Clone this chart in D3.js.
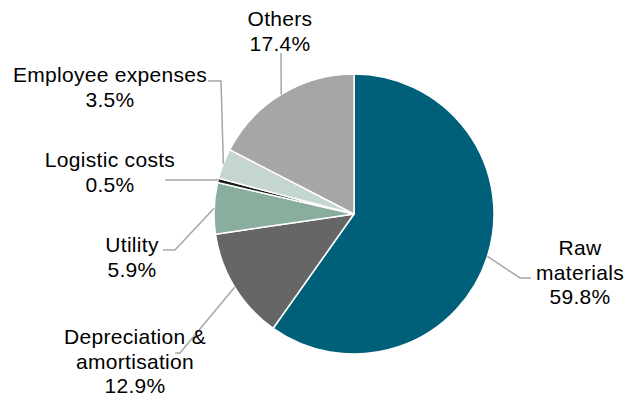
<!DOCTYPE html>
<html><head><meta charset="utf-8">
<script src="https://cdn.jsdelivr.net/npm/d3@7/dist/d3.min.js"></script>
<style>html,body{margin:0;padding:0;background:#fff;}svg{display:block;}</style>
</head><body>
<svg id="chart" width="632" height="401"></svg>
<script>
// Data
const categories = ["Raw materials", "Depreciation & amortisation", "Utility", "Logistic costs", "Employee expenses", "Others"];
const values = [59.8, 12.9, 5.9, 0.5, 3.5, 17.4];
const valueLabels = ["59.8%", "12.9%", "5.9%", "0.5%", "3.5%", "17.4%"];
const labelLines = [["Raw", "materials"], ["Depreciation &", "amortisation"], ["Utility"], ["Logistic costs"], ["Employee expenses"], ["Others"]];
const colors = ["#00607A", "#666666", "#8AAE9E", "#1A1A1A", "#C5D6D0", "#A6A6A6"];

// Layout (positions for labels and leader elbows)
const cx = 354, cy = 214, R = 140;
const labelPos = [
  {x: 580, y: 255}, {x: 135, y: 344}, {x: 132, y: 252},
  {x: 110, y: 167}, {x: 110, y: 82}, {x: 280, y: 26}
];
const elbows = [
  [[520, 278], [531, 278]],
  [[180, 353], [175, 353]],
  [[175, 250], [163, 250]],
  [[218, 180], [165, 180]],
  [[221, 81], [208, 81]],
  [[281, 53]]
];

const svg = d3.select("#chart");
const g = svg.append("g").attr("transform", `translate(${cx},${cy})`);
const pie = d3.pie().sort(null).value(d => d)(values);
const arc = d3.arc().innerRadius(0).outerRadius(R);

g.selectAll("path.slice").data(pie).join("path")
  .attr("class", "slice")
  .attr("d", arc)
  .attr("fill", (d, i) => colors[i])
  .attr("stroke", "#fff").attr("stroke-width", 1.5).attr("stroke-linejoin", "round");

// leader lines
const line = d3.line();
pie.forEach((d, i) => {
  const a = (d.startAngle + d.endAngle) / 2;
  const p0 = [cx + R * Math.sin(a), cy - R * Math.cos(a)];
  const pts = [p0].concat(elbows[i]);
  svg.append("path").attr("d", line(pts))
    .attr("fill", "none").attr("stroke", "#A6A6A6").attr("stroke-width", 1.5);
});

// labels
const font = "'Liberation Sans', Arial, sans-serif";
categories.forEach((c, i) => {
  const lines = labelLines[i].concat([valueLabels[i]]);
  const t = svg.append("text")
    .attr("text-anchor", "middle")
    .attr("font-family", font).attr("font-size", 21).attr("letter-spacing", 0.3).attr("fill", "#000");
  lines.forEach((ln, j) => {
    t.append("tspan").attr("x", labelPos[i].x).attr("y", labelPos[i].y + j * 24.5).text(ln);
  });
});
</script>
</body></html>
